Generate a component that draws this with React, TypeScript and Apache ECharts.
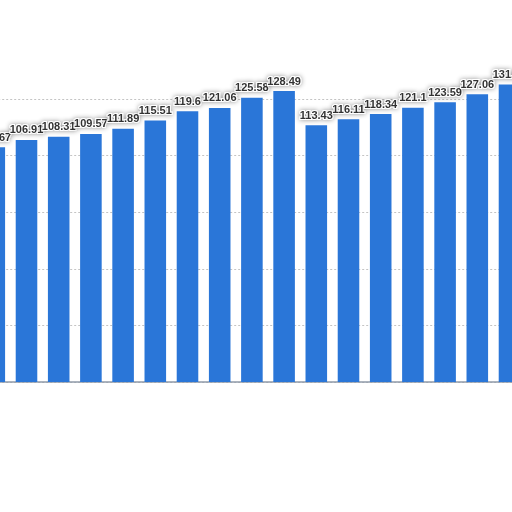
import { useEffect, useRef } from 'react';
import * as echarts from 'echarts';

// visible part of a longer bar series (cropped left and right)
const categories = ['1', '2', '3', '4', '5', '6', '7', '8', '9', '10', '11', '12', '13', '14', '15', '16', '17'];
const values = [103.67, 106.91, 108.31, 109.57, 111.89, 115.51, 119.6, 121.06, 125.58, 128.49, 113.43, 116.11, 118.34, 121.1, 123.59, 127.06, 131.36];

const colors = {
  bar: '#2a76d8',
  label: '#333333',
  split: '#c4c4c4',
  axis: '#8f9aa8',
};

export default function App() {
  const chartRef = useRef<HTMLDivElement>(null);

  useEffect(() => {
    if (!chartRef.current) return;
    const chart = echarts.init(chartRef.current, undefined, { renderer: 'svg' });

    chart.setOption({
      animation: false,
      backgroundColor: 'transparent',
      grid: { left: 18.2, width: 547.4, top: 99, height: 283 },
      xAxis: {
        type: 'category',
        data: categories,
        axisLine: { lineStyle: { color: colors.axis, width: 1.5 } },
        axisTick: { show: false },
        axisLabel: { show: false },
      },
      yAxis: {
        type: 'value',
        min: 0,
        max: 125,
        interval: 25,
        axisLabel: { show: false },
        axisLine: { show: false },
        axisTick: { show: false },
        splitLine: { lineStyle: { color: colors.split, type: [2, 2] } },
      },
      series: [
        {
          type: 'bar',
          data: values,
          clip: false,
          barCategoryGap: '33%',
          itemStyle: { color: colors.bar },
          label: {
            show: true,
            position: 'top',
            distance: 5,
            color: colors.label,
            fontFamily: 'Liberation Sans',
            fontSize: 11,
            fontWeight: 'bold',
            textBorderColor: '#ffffff',
            textBorderWidth: 2,
            textShadowColor: 'rgba(0,0,0,0.45)',
            textShadowBlur: 5,
          },
        },
      ],
    });

    return () => chart.dispose();
  }, []);

  return (
    <div style={{ position: 'fixed', left: 0, top: 0, width: 512, height: 512, overflow: 'hidden', background: '#fff' }}>
      <div ref={chartRef} style={{ position: 'absolute', left: -40, top: 0, width: 600, height: 512 }} />
    </div>
  );
}
